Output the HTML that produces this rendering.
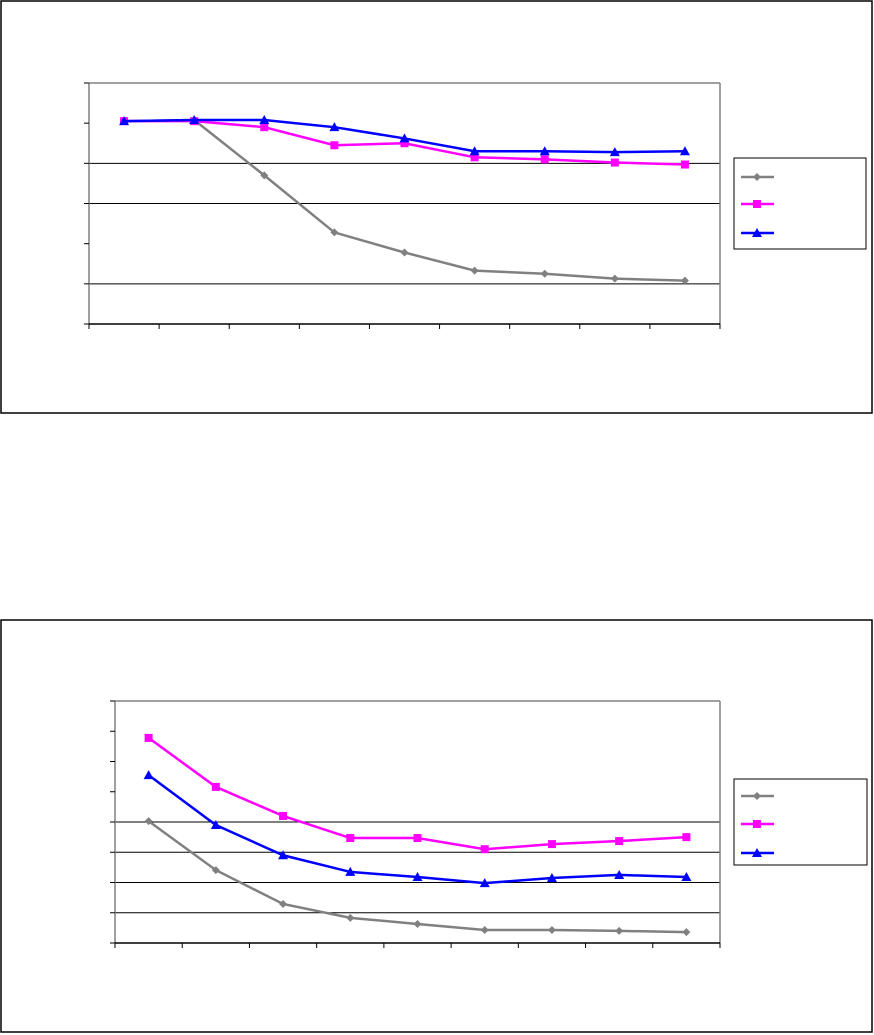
<!DOCTYPE html>
<html><head><meta charset="utf-8"><style>body{margin:0;background:#fff;font-family:"Liberation Sans",sans-serif}svg{display:block}</style></head>
<body>
<svg id="s" width="874" height="1035"></svg>
<script>
const categories=["1","2","3","4","5","6","7","8","9"];
const c1Gray=[5.05,5.08,3.7,2.28,1.78,1.33,1.25,1.13,1.08];
const c1Magenta=[5.05,5.05,4.9,4.45,4.5,4.15,4.1,4.02,3.97];
const c1Blue=[5.05,5.08,5.08,4.9,4.62,4.3,4.3,4.28,4.3];
const c2Gray=[4.03,2.41,1.29,0.83,0.63,0.43,0.43,0.4,0.36];
const c2Magenta=[6.78,5.16,4.2,3.47,3.47,3.1,3.27,3.37,3.5];
const c2Blue=[5.55,3.9,2.9,2.35,2.18,1.98,2.15,2.25,2.18];
const c1Grid=[1,3,4];const c2Grid=[1,2,3,4];
const NS="http://www.w3.org/2000/svg",S=document.getElementById('s');
function mk(t,a,p){const e=document.createElementNS(NS,t);for(const k in a)e.setAttribute(k,a[k]);(p||S).appendChild(e);return e;}
function marker(g,type,x,y,col){
 if(type==='d')return mk('polygon',{points:`${x},${y-4} ${x+4},${y} ${x},${y+4} ${x-4},${y}`,fill:col},g);
 if(type==='s')return mk('rect',{x:x-4,y:y-4,width:8,height:8,fill:col},g);
 return mk('polygon',{points:`${x},${y-5} ${x+5},${y+4} ${x-5},${y+4}`,fill:col},g);
}
function chart(name,box,pl,ymax,grid,series,leg){
 const g=mk('g',{});
 const r=mk('rect',{x:box[0],y:box[1],width:box[2],height:box[3],fill:'#fff',stroke:'#000','stroke-width':1.5},g);
 
 const [L,T,R,B]=pl,n=categories.length,step=(R-L)/n;
 const xs=i=>L+step*(i+0.5),ys=v=>B-(B-T)*v/ymax;
 grid.forEach(v=>{const l=mk('line',{x1:L,x2:R,y1:ys(v),y2:ys(v),stroke:'#000','stroke-width':1},g);});
 mk('line',{x1:L,x2:R,y1:T,y2:T,stroke:'#808080','stroke-width':1.5},g);
 mk('line',{x1:R,x2:R,y1:T,y2:B,stroke:'#808080','stroke-width':1.5},g);
 const ya=mk('line',{x1:L,x2:L,y1:T,y2:B,stroke:'#808080','stroke-width':1.5},g);
 const xa=mk('line',{x1:L,x2:R,y1:B,y2:B,stroke:'#000','stroke-width':1.5},g);
 for(let v=0;v<=ymax;v++)mk('line',{x1:L-5,x2:L,y1:ys(v),y2:ys(v),stroke:'#000'},g);
 for(let i=0;i<=n;i++)mk('line',{x1:L+step*i,x2:L+step*i,y1:B,y2:B+5,stroke:'#000'},g);
 series.forEach(s=>{
  const pts=s.data.map((v,i)=>xs(i)+','+ys(v)).join(' ');
  const pl2=mk('polyline',{points:pts,fill:'none',stroke:s.col,'stroke-width':2.5},g);
  
  s.data.forEach((v,i)=>{const m=marker(g,s.m,xs(i),ys(v),s.col);});
 });
 const lg=mk('rect',{x:leg[0],y:leg[1],width:leg[2],height:leg[3],fill:'#fff',stroke:'#000','stroke-width':1},g);
 
 series.forEach((s,k)=>{const y=leg[4][k];
  const l=mk('line',{x1:leg[0]+7,x2:leg[0]+40,y1:y,y2:y,stroke:s.col,'stroke-width':2.5},g);
  
  marker(g,s.m,leg[0]+23,y,s.col);});
}
chart('chart-top',[1,1,871,412],[89,83,720,324],6,c1Grid,
 [{name:'gray',data:c1Gray,col:'#808080',m:'d'},{name:'magenta',data:c1Magenta,col:'#ff00ff',m:'s'},{name:'blue',data:c1Blue,col:'#0000ff',m:'t'}],
 [734,158,132,91,[177,204,233]]);
chart('chart-bottom',[1,620,871,412],[115,701,720,943],8,c2Grid,
 [{name:'gray',data:c2Gray,col:'#808080',m:'d'},{name:'magenta',data:c2Magenta,col:'#ff00ff',m:'s'},{name:'blue',data:c2Blue,col:'#0000ff',m:'t'}],
 [734,779,133,86,[796,824,853]]);
</script>
</body></html>
